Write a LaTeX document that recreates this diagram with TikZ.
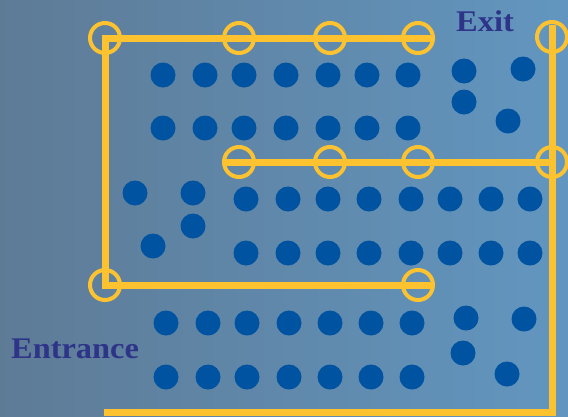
\documentclass[tikz,border=0pt]{standalone}
\usepackage{fontspec}
\newfontfamily\signfont[FakeStretch=1.08]{Liberation Serif}
\usepackage{tikz}

\definecolor{bgleft}{RGB}{94,123,150}
\definecolor{bgright}{RGB}{98,150,192}
\definecolor{routeyellow}{RGB}{252,194,48}
\definecolor{seatblue}{RGB}{0,83,160}
\definecolor{signblue}{RGB}{46,53,137}

\tikzset{
  waypoint/.style={circle, draw=routeyellow, line width=4pt, inner sep=0pt, minimum size=30pt},
  route/.style={draw=routeyellow, line width=7pt},
  sign/.style={text=signblue, inner sep=0pt, anchor=base west,
    font=\signfont\bfseries\fontsize{30}{30}\selectfont}
}

\begin{document}
\begin{tikzpicture}[x=1pt, y=-1pt]
    \useasboundingbox (0,0) rectangle (568,416);
    \shade [left color=bgleft, right color=bgright] (0,0) rectangle (568,416);

    % seats
    \foreach \x in {163,205,244,286,328,367,408}
      \foreach \y in {75,128}
        \fill [seatblue] (\x,\y) circle (12.5pt);
    \foreach \x in {246,288,328,369,411,450,491,530}
      \foreach \y in {199,253}
        \fill [seatblue] (\x,\y) circle (12.5pt);
    \foreach \x in {166,208,247,289,330,371,412}
      \foreach \y in {323,377}
        \fill [seatblue] (\x,\y) circle (12.5pt);
    \foreach \x/\y in {464/71, 523/69, 464/102, 508/121,
                       135/193, 193/193, 193/226, 153/246,
                       466/318, 524/319, 463/353, 507/374}
      \fill [seatblue] (\x,\y) circle (12.5pt);

    % route
    \coordinate (topR) at (432,38);
    \coordinate (topL) at (105,38);
    \coordinate (midL) at (105,285);
    \coordinate (midR) at (431,285);
    \coordinate (innL) at (225,162);
    \coordinate (innR) at (552,162);
    \coordinate (botL) at (104,412);
    \coordinate (botR) at (552,412);
    \coordinate (exitT) at (552,25);
    \draw [route] (topR) -- (topL) -- (midL) -- (midR);
    \draw [route] (innL) -- (innR);
    \draw [route] (botL) -- (botR) -- (exitT);

    \node [waypoint] (t1) at (105,38) {};
    \node [waypoint] (t2) at (239,38) {};
    \node [waypoint] (t3) at (330,38) {};
    \node [waypoint] (t4) at (418,38) {};
    \node [waypoint] (t5) at (552,37) {};
    \node [waypoint] (m1) at (239,162) {};
    \node [waypoint] (m2) at (330,162) {};
    \node [waypoint] (m3) at (418,162) {};
    \node [waypoint] (m4) at (552,162) {};
    \node [waypoint] (b1) at (105,285) {};
    \node [waypoint] (b2) at (418,285) {};

    \node [sign] (exit) at (456,31) {Exit};
    \node [sign] (entrance) at (11,358) {Entrance};
  \end{tikzpicture}
\end{document}
